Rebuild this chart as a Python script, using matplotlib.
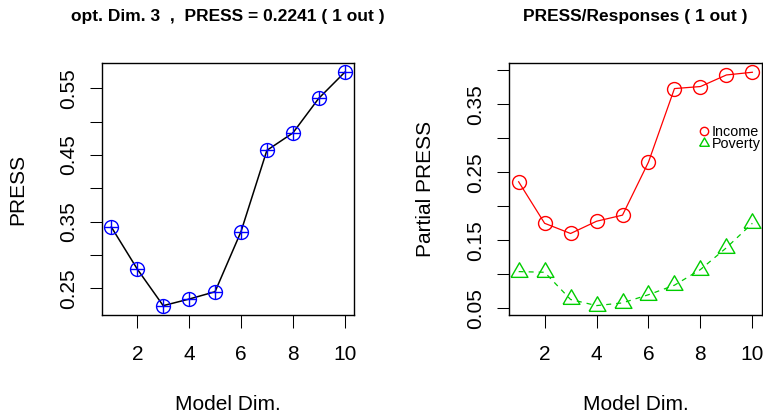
import matplotlib
matplotlib.use("Agg")
import matplotlib.pyplot as plt
from matplotlib.lines import Line2D

plt.rcParams['font.family'] = ['Liberation Sans', 'DejaVu Sans']

dims = [1, 2, 3, 4, 5, 6, 7, 8, 9, 10]
press = [0.342, 0.279, 0.2241, 0.234, 0.245, 0.335, 0.457, 0.483, 0.535, 0.574]
income = [0.236, 0.175, 0.160, 0.178, 0.187, 0.265, 0.373, 0.376, 0.393, 0.397]
poverty = [0.104, 0.103, 0.063, 0.054, 0.058, 0.070, 0.084, 0.107, 0.139, 0.175]

left_ticks = [0.25, 0.30, 0.35, 0.40, 0.45, 0.50, 0.55]
left_labels = ['0.25', '', '0.35', '', '0.45', '', '0.55']
right_ticks = [0.05, 0.10, 0.15, 0.20, 0.25, 0.30, 0.35, 0.40]
right_labels = ['0.05', '', '0.15', '', '0.25', '', '0.35', '']
x_ticks = [2, 4, 6, 8, 10]

# equilateral triangle like R pch=2 (centroid at the point)
tri = [(-1, -0.577), (1, -0.577), (0, 1.155), (-1, -0.577)]

fig = plt.figure(figsize=(7.63, 4.16), dpi=100)
ax1 = fig.add_axes([102/763, 1 - 315/416, 252/763, 252/416])
ax2 = fig.add_axes([509.3/763, 1 - 315/416, 252.4/763, 252/416])


def style(ax, yticks, ylabels, ylim, ylab, title):
    ax.set_xlim(0.64, 10.36)
    ax.set_ylim(*ylim)
    ax.set_xticks(x_ticks)
    ax.set_yticks(yticks)
    ax.set_yticklabels(ylabels, rotation=90, va='center')
    ax.tick_params(length=9, width=0.75, labelsize=15)
    ax.tick_params(axis='x', pad=12.5)
    ax.tick_params(axis='y', pad=8.5)
    for s in ax.spines.values():
        s.set_linewidth(1.0)
    ax.set_xlabel('Model Dim.', fontsize=15, va='baseline')
    ax.xaxis.set_label_coords(0.5, -0.377)
    ax.set_ylabel(ylab, fontsize=15, va='baseline')
    ax.yaxis.set_label_coords(-0.311, 0.5)
    ax.set_title(title, fontsize=12.5, fontweight='bold', y=1.168, pad=0)


# left panel
ax1.plot(dims, press, color='black', lw=1.1)
ax1.plot(dims, press, 'o', mfc='none', mec='blue', ms=10, mew=1.0)
ax1.plot(dims, press, '+', color='blue', ms=10, mew=1.0)
style(ax1, left_ticks, left_labels, (0.2101, 0.588), 'PRESS',
      'opt. Dim. 3  ,  PRESS = 0.2241 ( 1 out )')

# right panel
ax2.plot(dims, income, color='red', lw=0.9, marker='o', mfc='none', mec='red', ms=10, mew=1.0)
ax2.plot(dims, poverty, color='#00CD00', lw=0.9, ls=(0, (4, 4)), marker=tri,
         mfc='none', mec='#00CD00', ms=14, mew=1.0)
style(ax2, right_ticks, right_labels, (0.0402, 0.4106), 'Partial PRESS',
      'PRESS/Responses ( 1 out )')

h1 = Line2D([], [], ls='none', marker='o', mfc='none', mec='red', ms=6, mew=1.0)
h2 = Line2D([], [], ls='none', marker=tri, mfc='none', mec='#00CD00', ms=8, mew=1.0)
ax2.legend([h1, h2], ['Income', 'Poverty'], loc='upper right', bbox_to_anchor=(0.995, 0.755),
           frameon=False, fontsize=10.4, handlelength=0.6, handletextpad=0.2,
           labelspacing=-0.12, borderpad=0, borderaxespad=0)

fig.savefig('out.png', dpi=100)
